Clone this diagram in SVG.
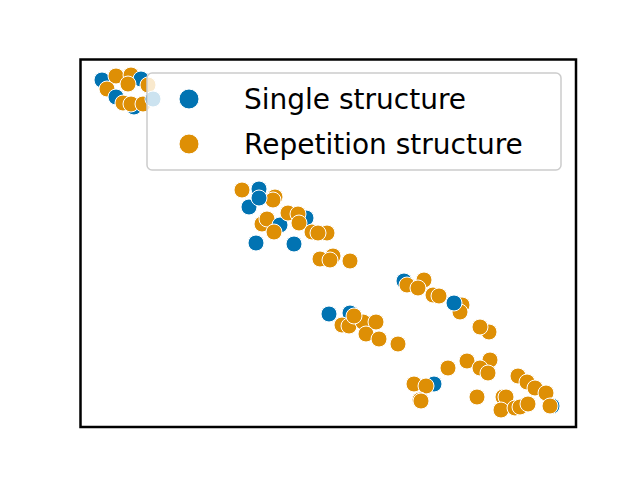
<svg xmlns="http://www.w3.org/2000/svg" width="640" height="480" viewBox="0 0 640 480">
<style>
.b{fill:#0173b2;stroke:#fff;stroke-width:1}
.o{fill:#de8f05;stroke:#fff;stroke-width:1}
text{font-family:"DejaVu Sans",sans-serif;font-size:28px;fill:#000}
</style>
<rect width="640" height="480" fill="#fff"/>
<g id="points">
<circle class="b" cx="102" cy="80" r="8"/><circle class="o" cx="116" cy="76" r="8"/><circle class="o" cx="131" cy="75" r="8"/><circle class="b" cx="141" cy="79" r="8"/>
<circle class="o" cx="107" cy="89" r="8"/><circle class="b" cx="116" cy="97" r="8"/><circle class="b" cx="134" cy="107" r="8"/><circle class="o" cx="123" cy="103" r="8"/><circle class="o" cx="131" cy="104" r="8"/><circle class="o" cx="143" cy="104" r="8"/><circle class="o" cx="128" cy="84" r="8"/><circle class="o" cx="148" cy="85" r="8"/><circle class="b" cx="153" cy="99" r="8"/>
<circle class="o" cx="242" cy="190" r="8"/><circle class="b" cx="259" cy="189" r="8"/><circle class="b" cx="249" cy="207" r="8"/><circle class="o" cx="275" cy="197" r="8"/><circle class="o" cx="273" cy="200" r="8"/><circle class="b" cx="259" cy="198" r="8"/>
<circle class="o" cx="262" cy="224" r="8"/><circle class="o" cx="267" cy="219" r="8"/><circle class="b" cx="280" cy="225" r="8"/><circle class="o" cx="274" cy="232" r="8"/><circle class="o" cx="288" cy="213" r="8"/><circle class="b" cx="306" cy="218" r="8"/><circle class="o" cx="298" cy="214" r="8"/><circle class="o" cx="299" cy="223" r="8"/><circle class="o" cx="327" cy="233" r="8"/><circle class="o" cx="312" cy="232" r="8"/><circle class="o" cx="318" cy="233" r="8"/>
<circle class="b" cx="256" cy="243" r="8"/><circle class="b" cx="294" cy="244" r="8"/><circle class="o" cx="320" cy="259" r="8"/><circle class="o" cx="333" cy="256" r="8"/><circle class="o" cx="330" cy="260" r="8"/><circle class="o" cx="350" cy="261" r="8"/>
<circle class="b" cx="404" cy="281" r="8"/><circle class="o" cx="407" cy="285" r="8"/><circle class="o" cx="424" cy="280" r="8"/><circle class="o" cx="418" cy="288" r="8"/><circle class="o" cx="433" cy="295" r="8"/><circle class="o" cx="439" cy="296" r="8"/><circle class="o" cx="462" cy="305" r="8"/><circle class="o" cx="460" cy="312" r="8"/><circle class="b" cx="454" cy="303" r="8"/><circle class="o" cx="489" cy="332" r="8"/><circle class="o" cx="480" cy="327" r="8"/>
<circle class="b" cx="329" cy="314" r="8"/><circle class="b" cx="350" cy="313" r="8"/><circle class="o" cx="342" cy="325" r="8"/><circle class="o" cx="349" cy="326" r="8"/><circle class="o" cx="363" cy="322" r="8"/><circle class="o" cx="376" cy="322" r="8"/><circle class="o" cx="354" cy="316" r="8"/><circle class="o" cx="366" cy="334" r="8"/><circle class="o" cx="379" cy="339" r="8"/><circle class="o" cx="398" cy="344" r="8"/>
<circle class="o" cx="448" cy="368" r="8"/><circle class="o" cx="467" cy="361" r="8"/><circle class="o" cx="490" cy="360" r="8"/><circle class="o" cx="480" cy="368" r="8"/><circle class="o" cx="488" cy="373" r="8"/>
<circle class="b" cx="434" cy="384" r="8"/><circle class="o" cx="414" cy="384" r="8"/><circle class="o" cx="426" cy="386" r="8"/><circle class="o" cx="420" cy="400" r="8"/><circle class="o" cx="421" cy="401" r="8"/><circle class="o" cx="477" cy="397" r="8"/>
<circle class="o" cx="518" cy="376" r="8"/><circle class="o" cx="527" cy="382" r="8"/><circle class="o" cx="535" cy="388" r="8"/><circle class="o" cx="546" cy="393" r="8"/><circle class="b" cx="552" cy="406" r="8"/><circle class="o" cx="550" cy="406" r="8"/>
<circle class="o" cx="503" cy="397" r="8"/><circle class="o" cx="506" cy="397" r="8"/><circle class="o" cx="501" cy="410" r="8"/><circle class="o" cx="515" cy="408" r="8"/><circle class="o" cx="520" cy="407" r="8"/><circle class="o" cx="528" cy="404" r="8"/>
</g>
<rect x="80.5" y="59.5" width="495.5" height="367.5" fill="none" stroke="#000" stroke-width="2.5"/>
<g id="legend">
<rect x="147" y="73" width="414" height="97" rx="5" fill="#fff" fill-opacity="0.8" stroke="#ccc" stroke-width="1.5"/>
<circle class="b" cx="189" cy="99" r="10"/>
<circle class="o" cx="189" cy="144" r="10"/>
<text x="244" y="109">Single structure</text>
<text x="244" y="154">Repetition structure</text>
</g>
</svg>
